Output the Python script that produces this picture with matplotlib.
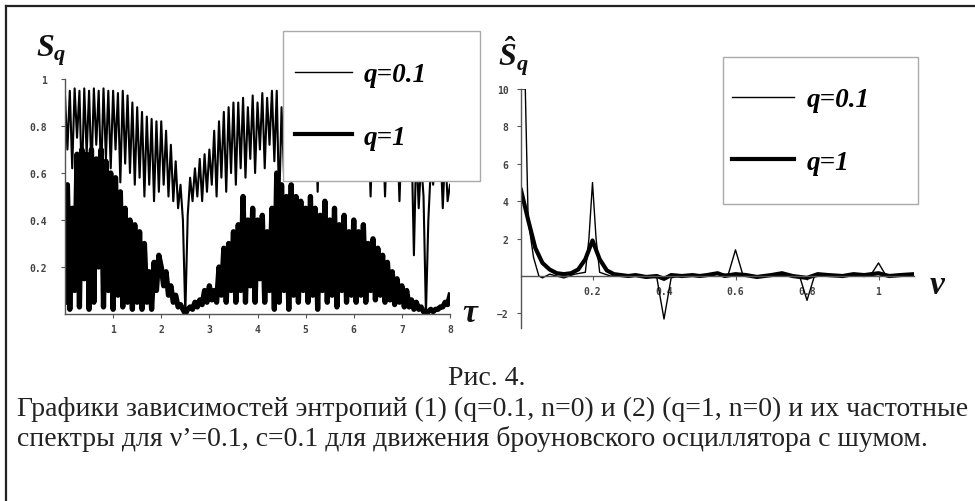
import numpy as np
import matplotlib.pyplot as plt
from matplotlib.lines import Line2D
from matplotlib.patches import Rectangle

plt.rcParams['mathtext.fontset'] = 'custom'
plt.rcParams['mathtext.it'] = 'Liberation Serif:italic:bold'
plt.rcParams['mathtext.rm'] = 'Liberation Serif:bold'

# ---- left panel: entropy vs tau (step 0.05) ----
tau = np.linspace(0, 8, 161)

s_q01 = [
    # 0.00 - 1.30
    0.93, 0.70, 0.95, 0.62, 0.96, 0.75, 0.95, 0.55, 0.96, 0.68, 0.95, 0.60, 0.96, 0.72,
    0.95, 0.58, 0.96, 0.66, 0.95, 0.62, 0.95, 0.70, 0.94, 0.56, 0.95, 0.64, 0.93,
    # 1.35 - 2.00
    0.60, 0.90, 0.55, 0.88, 0.58, 0.86, 0.50, 0.84, 0.55, 0.83, 0.48, 0.82, 0.52, 0.82,
    # 2.05 - 2.50
    0.55, 0.78, 0.50, 0.72, 0.48, 0.65, 0.45, 0.55, 0.40, 0.00,
    # 2.55 - 3.00
    0.42, 0.58, 0.48, 0.62, 0.50, 0.66, 0.48, 0.68, 0.52, 0.70,
    # 3.05 - 3.50
    0.55, 0.78, 0.50, 0.82, 0.58, 0.86, 0.52, 0.88, 0.60, 0.90,
    # 3.55 - 4.40
    0.55, 0.90, 0.62, 0.92, 0.58, 0.88, 0.66, 0.93, 0.60, 0.90, 0.70, 0.94, 0.62, 0.92,
    0.72, 0.95, 0.65, 0.95,
    # 4.45 - 5.00
    0.45, 0.88, 0.60, 0.85, 0.62, 0.88, 0.58, 0.86, 0.62, 0.88, 0.58, 0.86,
    # 5.05 - 6.00
    0.60, 0.85, 0.62, 0.88, 0.52, 0.86, 0.64, 0.88, 0.62, 0.85, 0.60, 0.87, 0.63, 0.85,
    0.60, 0.86, 0.62, 0.84, 0.60, 0.85,
    # 6.05 - 7.00
    0.58, 0.84, 0.60, 0.82, 0.60, 0.84, 0.50, 0.83, 0.60, 0.80, 0.60, 0.82, 0.50, 0.80,
    0.58, 0.82, 0.60, 0.80, 0.48, 0.78,
    # 7.05 - 7.50
    0.60, 0.78, 0.60, 0.75, 0.25, 0.72, 0.45, 0.65, 0.50, 0.00,
    # 7.55 - 8.00
    0.40, 0.62, 0.55, 0.70, 0.58, 0.72, 0.45, 0.70, 0.48, 0.55,
]

s_q1 = [
    # 0.00 - 1.30
    0.05, 0.55, 0.02, 0.45, 0.10, 0.68, 0.03, 0.70, 0.15, 0.68, 0.02, 0.70, 0.05, 0.66,
    0.20, 0.70, 0.03, 0.65, 0.10, 0.60, 0.02, 0.58, 0.08, 0.52, 0.03, 0.45, 0.05,
    # 1.35 - 2.00
    0.40, 0.02, 0.38, 0.05, 0.35, 0.02, 0.30, 0.05, 0.18, 0.02, 0.22, 0.10, 0.25, 0.20,
    # 2.05 - 2.50
    0.12, 0.18, 0.08, 0.12, 0.05, 0.08, 0.03, 0.04, 0.02, 0.00,
    # 2.55 - 3.00
    0.02, 0.03, 0.02, 0.05, 0.03, 0.06, 0.04, 0.10, 0.05, 0.12,
    # 3.05 - 3.50
    0.06, 0.10, 0.05, 0.20, 0.08, 0.28, 0.05, 0.30, 0.10, 0.35,
    # 3.55 - 4.40
    0.05, 0.38, 0.10, 0.50, 0.05, 0.40, 0.12, 0.45, 0.05, 0.40, 0.15, 0.42, 0.05, 0.35,
    0.10, 0.45, 0.02, 0.60,
    # 4.45 - 5.00
    0.05, 0.55, 0.10, 0.50, 0.02, 0.55, 0.08, 0.50, 0.05, 0.48, 0.10, 0.45,
    # 5.05 - 6.00
    0.05, 0.50, 0.08, 0.45, 0.02, 0.42, 0.10, 0.48, 0.05, 0.40, 0.08, 0.45, 0.03, 0.38,
    0.10, 0.42, 0.05, 0.35, 0.08, 0.40,
    # 6.05 - 7.00
    0.05, 0.35, 0.08, 0.38, 0.05, 0.30, 0.10, 0.32, 0.06, 0.28, 0.08, 0.25, 0.05, 0.22,
    0.06, 0.18, 0.04, 0.15, 0.05, 0.12,
    # 7.05 - 7.50
    0.03, 0.10, 0.03, 0.06, 0.02, 0.05, 0.02, 0.03, 0.01, 0.00,
    # 7.55 - 8.00
    0.01, 0.02, 0.01, 0.02, 0.02, 0.03, 0.03, 0.05, 0.04, 0.08,
]

tau_ticks = [1, 2, 3, 4, 5, 6, 7, 8]
s_ticks = [0.2, 0.4, 0.6, 0.8, 1.0]
s_ticklabels = ['0.2', '0.4', '0.6', '0.8', '1']

# ---- right panel: spectra vs nu ----
nu_q01 = [0.0, 0.012, 0.02, 0.035, 0.05, 0.06, 0.08, 0.10, 0.12, 0.15, 0.18, 0.19, 0.20,
          0.21, 0.22, 0.25, 0.30, 0.35, 0.38, 0.40, 0.42, 0.45, 0.50, 0.55, 0.58, 0.60,
          0.62, 0.65, 0.70, 0.75, 0.78, 0.80, 0.82, 0.85, 0.90, 0.95, 0.98, 1.00, 1.02,
          1.05, 1.10]
sp_q01 = [10.0, 10.0, 3.0, 1.0, 0.0, -0.1, 0.1, 0.0, -0.1, 0.1, 0.2, 2.0, 5.0,
          2.0, 0.2, 0.0, 0.05, 0.0, -0.1, -2.3, -0.1, 0.05, 0.0, 0.1, 0.1, 1.4,
          0.1, 0.0, 0.05, 0.0, -0.05, -1.3, -0.05, 0.05, 0.0, 0.05, 0.1, 0.7, 0.05,
          0.0, 0.05]

nu_q1 = [0.0, 0.02, 0.04, 0.06, 0.08, 0.10, 0.12, 0.14, 0.16, 0.18, 0.20, 0.22, 0.24,
         0.26, 0.28, 0.30, 0.32, 0.35, 0.38, 0.40, 0.42, 0.45, 0.48, 0.50, 0.52, 0.55,
         0.57, 0.60, 0.63, 0.66, 0.70, 0.73, 0.76, 0.80, 0.83, 0.86, 0.90, 0.93, 0.96,
         1.00, 1.03, 1.06, 1.10]
sp_q1 = [4.6, 3.0, 1.5, 0.7, 0.35, 0.15, 0.1, 0.15, 0.35, 0.9, 1.9, 0.9, 0.3,
         0.1, 0.05, 0.0, 0.05, -0.05, 0.0, -0.15, 0.05, 0.0, 0.05, 0.0, 0.05, 0.15,
         0.0, 0.1, 0.05, -0.05, 0.05, 0.15, 0.0, -0.1, 0.1, 0.05, 0.0, 0.1, 0.05,
         0.15, 0.0, 0.05, 0.1]

nu_ticks = [0.2, 0.4, 0.6, 0.8, 1.0]
nu_ticklabels = ['0.2', '0.4', '0.6', '0.8', '1']
sp_ticks = [-2, 2, 4, 6, 8, 10]

W, H = 975, 502
fig = plt.figure(figsize=(W / 100, H / 100), dpi=100)
fig.patch.set_facecolor('white')


def px(x0, y0, x1, y1):
    # pixel box (top-left origin) -> figure fraction rect
    return [x0 / W, 1 - y1 / H, (x1 - x0) / W, (y1 - y0) / H]


serif_bi = dict(family='Liberation Serif', style='italic', weight='bold')

# left axes
ax1 = fig.add_axes(px(65, 80, 450, 315))
ax1.plot(tau, s_q01, color='black', lw=1.5)
ax1.plot(tau, s_q1, color='black', lw=3.8)
ax1.set_xlim(0, 8)
ax1.set_ylim(0, 1)
ax1.set_xticks(tau_ticks)
ax1.set_xticklabels([str(t) for t in tau_ticks])
ax1.set_yticks(s_ticks)
ax1.set_yticklabels(s_ticklabels)

# right axes
ax2 = fig.add_axes(px(521, 90, 521 + 1.1 * 357.5, 329.4))
ax2.plot(nu_q01, sp_q01, color='black', lw=1.0)
ax2.plot(nu_q1, sp_q1, color='black', lw=3.0)
ax2.set_xlim(0, 1.1)
ax2.set_ylim(-2.8, 10)
ax2.spines['bottom'].set_position(('data', 0))
ax2.set_xticks(nu_ticks)
ax2.set_xticklabels(nu_ticklabels)
ax2.set_yticks(sp_ticks)

for ax in (ax1, ax2):
    ax.patch.set_alpha(0)
    for s in ('top', 'right'):
        ax.spines[s].set_visible(False)
    for s in ('left', 'bottom'):
        ax.spines[s].set_color('#555555')
        ax.spines[s].set_linewidth(1.0)
    ax.tick_params(length=3, width=0.8, color='#555555', pad=4)
    for lab in ax.get_xticklabels() + ax.get_yticklabels():
        lab.set_family('DejaVu Sans Mono')
        lab.set_fontsize(7)
        lab.set_fontweight('bold')
        lab.set_color('#444444')
ax1.tick_params(axis='y', pad=10)
ax2.tick_params(axis='y', pad=6)

# axis labels
fig.text(36 / W, 1 - 57 / H, r'$S_q$', fontsize=23, color='#111111')
fig.text(498 / W, 1 - 66 / H, r'$\hat{S}_q$', fontsize=23, color='#111111')
fig.text(462 / W, 1 - 322 / H, r'$\tau$', fontsize=24, color='#111111')
fig.text(929 / W, 1 - 294 / H, r'$\nu$', fontsize=24, color='#111111')

# legend boxes
for (x0, y0, x1, y1) in [(283, 32, 480, 182), (723, 58, 918, 205)]:
    fig.add_artist(Rectangle((x0 / W, 1 - y1 / H), (x1 - x0) / W, (y1 - y0) / H,
                             transform=fig.transFigure, facecolor='white',
                             edgecolor='#aaaaaa', lw=1.0, zorder=3))

handles = [Line2D([], [], color='black', lw=1.0), Line2D([], [], color='black', lw=3.0)]
labels = ['q=0.1', 'q=1']
for (x, y, hl) in [(295, 107, 2.1), (732, 132, 2.3)]:
    fig.legend(handles, labels, loc='center left', bbox_to_anchor=(x / W, 1 - y / H),
               bbox_transform=fig.transFigure, frameon=False, borderpad=0,
               borderaxespad=0, handlelength=hl, handletextpad=0.45,
               labelspacing=1.4, prop=dict(size=19.5, **serif_bi))

# page frame (top and left edges)
fig.add_artist(Line2D([6 / W, 1], [1 - 7 / H, 1 - 7 / H], color='#222222', lw=1.6,
                      transform=fig.transFigure))
fig.add_artist(Line2D([6 / W, 6 / W], [0, 1 - 7 / H], color='#222222', lw=1.6,
                      transform=fig.transFigure))

# caption
cap = dict(family='Liberation Serif', fontsize=20, color='#222222', va='baseline')
fig.text(487 / W, 1 - 385 / H, 'Рис. 4.', ha='center', **cap)
fig.text(17 / W, 1 - 416 / H,
         'Графики зависимостей энтропий (1) (q=0.1, n=0) и (2) (q=1, n=0) и их частотные',
         ha='left', **cap)
fig.text(17 / W, 1 - 446 / H,
         'спектры для ν’=0.1, c=0.1 для движения броуновского осциллятора с шумом.',
         ha='left', **cap)

fig.savefig('out.png', dpi=100)
